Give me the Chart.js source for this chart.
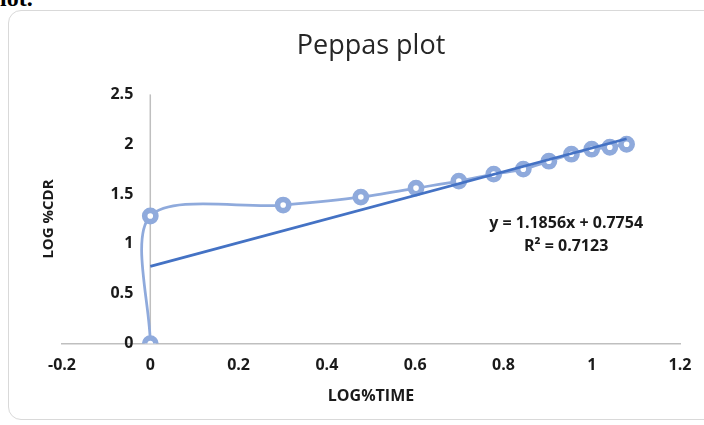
<!DOCTYPE html>
<html>
<head>
<meta charset="utf-8">
<title>Peppas plot</title>
<script src="https://cdn.jsdelivr.net/npm/chart.js@4.4.1/dist/chart.umd.min.js"></script>
<style>
  html, body { margin: 0; padding: 0; background: #fff; }
  #page { position: relative; width: 704px; height: 425px; overflow: hidden; }
  #heading {
    position: absolute; left: 0; top: -14px;
    font: bold 24px/24px "Liberation Serif", serif; color: #000;
  }
  #frame {
    position: absolute; left: 8px; top: 10px; width: 740px; height: 410px;
    border: 1.5px solid #d9d9d9; border-radius: 13px; box-sizing: border-box;
  }
  #plot { position: absolute; left: 0; top: 0; }
</style>
</head>
<body>
<div id="page">
  <div id="heading">lot.</div>
  <div id="frame"></div>
  <canvas id="plot" width="704" height="425"></canvas>
</div>
<script>
console.log("Chart.js", Chart.version);

// measured release data
const logTime = [0, 0, 0.301, 0.477, 0.602, 0.699, 0.778, 0.845, 0.903, 0.954, 1.0, 1.041, 1.079];
const logCdr = [0, 1.28, 1.39, 1.47, 1.56, 1.63, 1.70, 1.75, 1.83, 1.90, 1.95, 1.97, 2.0];

// linear trendline as reported
const slope = 1.1856;
const intercept = 0.7754;
const rSquared = 0.7123;

// axis ticks
const xTicks = [-0.2, 0, 0.2, 0.4, 0.6, 0.8, 1, 1.2];
const yTicks = [0, 0.5, 1, 1.5, 2, 2.5];

const markerBlue = '#8faadc';
const trendBlue = '#4472c4';
const axisGray = '#bfbfbf';
const textColor = '#1a1a1a';
const boldFont = { family: '"Open Sans", sans-serif', size: 16, weight: 'bold' };

const points = logTime.map((t, i) => ({ x: t, y: logCdr[i] }));
const xMin = Math.min(...logTime);
const xMax = Math.max(...logTime);
const trendPoints = [
    { x: xMin, y: slope * xMin + intercept },
    { x: xMax, y: slope * xMax + intercept }
];

// vertical axis crosses at x = 0, labels sit just left of it
const zeroAxis = {
    id: 'zeroAxis',
    beforeDatasetsDraw(chart) {
        const { ctx, chartArea, scales: { x, y } } = chart;
        const px = x.getPixelForValue(0);
        ctx.save();
        ctx.strokeStyle = axisGray;
        ctx.lineWidth = 1.5;
        ctx.beginPath();
        ctx.moveTo(px, chartArea.top);
        ctx.lineTo(px, chartArea.bottom);
        ctx.stroke();
        ctx.font = 'bold 16px "Open Sans", sans-serif';
        ctx.fillStyle = textColor;
        ctx.textAlign = 'right';
        ctx.textBaseline = 'middle';
        yTicks.forEach(v => ctx.fillText(String(v), px - 17, y.getPixelForValue(v)));
        ctx.restore();
    }
};

// equation label next to the trendline
const trendLabel = {
    id: 'trendLabel',
    afterDatasetsDraw(chart) {
        const { ctx, scales: { x, y } } = chart;
        const cx = x.getPixelForValue(0.942);
        const cy = y.getPixelForValue(1.21);
        ctx.save();
        ctx.font = 'bold 16px "Open Sans", sans-serif';
        ctx.fillStyle = textColor;
        ctx.textAlign = 'center';
        ctx.textBaseline = 'middle';
        ctx.fillText('y = ' + slope + 'x + ' + intercept, cx, cy);
        ctx.fillText('R\u00b2 = ' + rSquared, cx, cy + 23);
        ctx.restore();
    }
};

new Chart(document.getElementById('plot'), {
    type: 'scatter',
    data: {
        datasets: [
            {
                label: 'Linear (LOG %CDR)',
                data: trendPoints,
                showLine: true,
                borderColor: trendBlue,
                borderWidth: 2.75,
                pointRadius: 0,
                order: 0
            },
            {
                label: 'LOG %CDR',
                data: points,
                showLine: true,
                tension: 0.3,
                borderColor: markerBlue,
                borderWidth: 2.75,
                pointRadius: 5.6,
                pointBorderWidth: 5.6,
                pointBackgroundColor: '#ffffff',
                pointBorderColor: markerBlue,
                order: 1
            }
        ]
    },
    options: {
        responsive: false,
        animation: false,
        devicePixelRatio: 1,
        layout: { padding: { top: 20, left: 34, right: 24, bottom: 13 } },
        plugins: {
            legend: { display: false },
            tooltip: { enabled: false },
            title: {
                display: true,
                text: 'Peppas plot',
                fullSize: false,
                color: '#262626',
                font: { family: '"Open Sans", sans-serif', size: 27, weight: 'normal' },
                padding: { top: 10, bottom: 32 }
            }
        },
        scales: {
            x: {
                type: 'linear',
                min: -0.2,
                max: 1.2,
                afterBuildTicks: s => { s.ticks = xTicks.map(v => ({ value: v })); },
                ticks: {
                    color: textColor,
                    font: boldFont,
                    padding: 12,
                    maxRotation: 0,
                    callback: v => String(v)
                },
                grid: { display: false, drawTicks: false },
                border: { display: true, color: axisGray, width: 1.5 },
                title: {
                    display: true,
                    text: 'LOG%TIME',
                    color: textColor,
                    font: boldFont,
                    padding: { top: 0, bottom: 6 }
                }
            },
            y: {
                type: 'linear',
                min: 0,
                max: 2.5,
                afterBuildTicks: s => { s.ticks = yTicks.map(v => ({ value: v })); },
                ticks: { display: false },
                grid: { display: false, drawTicks: false },
                border: { display: false },
                title: {
                    display: true,
                    text: 'LOG %CDR',
                    color: textColor,
                    font: { family: '"Open Sans", sans-serif', size: 15, weight: 'bold' },
                    padding: { top: 6, bottom: 4 }
                }
            }
        }
    },
    plugins: [zeroAxis, trendLabel]
});
</script>
</body>
</html>
